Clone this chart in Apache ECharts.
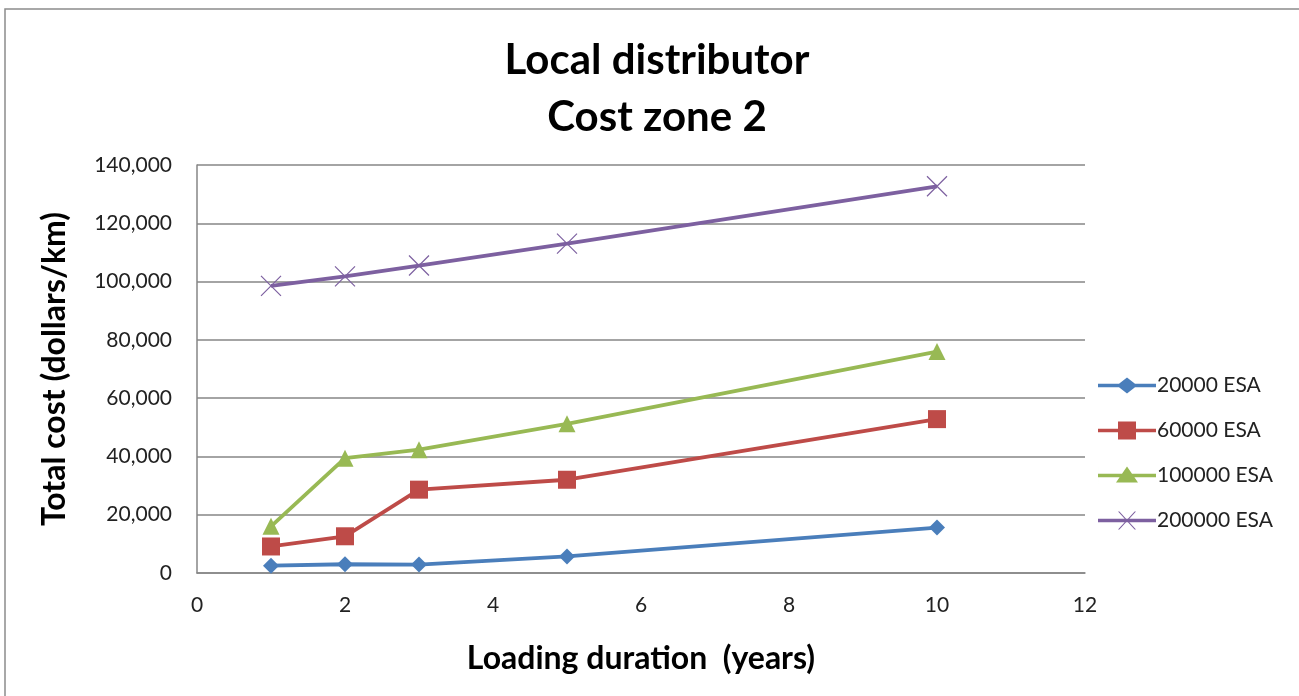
<!DOCTYPE html>
<html><head><meta charset="utf-8">
<script src="https://cdn.jsdelivr.net/npm/echarts@6/dist/echarts.min.js"></script>
<style>html,body{margin:0;padding:0;background:#fff}#c{width:1299px;height:696px}</style>
</head><body><div id="c"></div>
<script>
const durations = [1, 2, 3, 5, 10];
const seriesNames = ['20000 ESA', '60000 ESA', '100000 ESA', '200000 ESA'];
const esa20000 = [2500, 3000, 2900, 5700, 15600];
const esa60000 = [9100, 12600, 28600, 32000, 52800];
const esa100000 = [16000, 39400, 42300, 51200, 76000];
const esa200000 = [98500, 101800, 105500, 113000, 132700];
const xTicks = [0, 2, 4, 6, 8, 10, 12];
const yTicks = [0, 20000, 40000, 60000, 80000, 100000, 120000, 140000];

const colors = ['#4A7EBB', '#BE4B48', '#98B954', '#7D60A0'];
const symbols = ['diamond', 'rect', 'triangle',
  'path://M0,0 L10,10 M10,0 L0,10'];
const legendIcons = [
  'path://M0,7.2 H21 L29,1 L37,7.2 H58 V10.8 H37 L29,17 L21,10.8 H0 Z',
  'path://M0,7.2 H20 V0 H38 V7.2 H58 V10.8 H38 V18 H20 V10.8 H0 Z',
  'path://M0,7.2 H24 L29,0 L34,7.2 H58 V10.8 H36.4 L40,16 H18 L21.6,10.8 H0 Z M0,0 H0.01 V18 H0 Z',
  'path://M0,7.2 H58 V10.8 H0 Z M20,0 L21.4,0 L38,18 L36.6,18 Z M36.6,0 L38,0 L21.4,18 L20,18 Z'
];
const sizes = [16, 18, 17, 20];
const all = [esa20000, esa60000, esa100000, esa200000];
const font = 'Lato, "Open Sans", sans-serif';

const chart = echarts.init(document.getElementById('c'), null, {renderer: 'canvas'});
chart.setOption({
  animation: false,
  backgroundColor: '#fff',
  graphic: [{type: 'rect', shape: {x: 5, y: 9, width: 1310, height: 710},
    style: {fill: 'none', stroke: '#8c8c8c', lineWidth: 1.5}, silent: true}],
  title: {
    text: 'Local distributor\nCost zone 2',
    left: 652, top: 27, textAlign: 'center',
    textStyle: {fontFamily: font, fontWeight: 'bold', fontSize: 42, lineHeight: 57, color: '#000'}
  },
  legend: {
    orient: 'vertical', left: 1093, top: 370, itemGap: 24,
    itemWidth: 58, itemHeight: 18,
    textStyle: {fontFamily: font, fontSize: 21, color: '#222', padding: [0,0,0,-4]},
    data: seriesNames.map((n, i) => ({name: n, icon: legendIcons[i],
      itemStyle: {color: colors[i], borderWidth: 0, opacity: 1}}))
  },
  grid: {left: 197, right: 214, top: 165, bottom: 123, containLabel: false},
  xAxis: {
    type: 'value', min: 0, max: 12, interval: 2,
    name: 'Loading duration  (years)', nameLocation: 'middle', nameGap: 70,
    nameTextStyle: {fontFamily: font, fontWeight: 'bold', fontSize: 32, color: '#000'},
    axisLine: {show: true, lineStyle: {color: '#868686', width: 1.5}},
    axisTick: {show: false},
    axisLabel: {fontFamily: font, fontSize: 21, color: '#222', margin: 22,
      formatter: v => xTicks.includes(v) ? String(v) : ''},
    splitLine: {show: false}
  },
  yAxis: {
    type: 'value', min: 0, max: 140000, interval: 20000,
    name: 'Total cost (dollars/km)', nameLocation: 'middle', nameGap: 126,
    nameTextStyle: {fontFamily: font, fontWeight: 'bold', fontSize: 32, color: '#000'},
    axisLine: {show: true, lineStyle: {color: '#868686', width: 1.5}},
    axisTick: {show: false},
    axisLabel: {fontFamily: font, fontSize: 21, color: '#222', margin: 25,
      formatter: v => yTicks.includes(v) ? v.toLocaleString('en-US') : ''},
    splitLine: {show: true, lineStyle: {color: '#868686', width: 1.5}}
  },
  series: all.map((arr, i) => ({
    name: seriesNames[i], type: 'line',
    data: durations.map((d, j) => [d, arr[j]]),
    symbol: symbols[i], symbolSize: sizes[i], showSymbol: true,
    lineStyle: {color: colors[i], width: 3.8},
    itemStyle: i === 3 ? {color: 'none', borderColor: colors[i], borderWidth: 1.2} : {color: colors[i], borderWidth: 0},
    z: 2
  }))
});
</script></body></html>
